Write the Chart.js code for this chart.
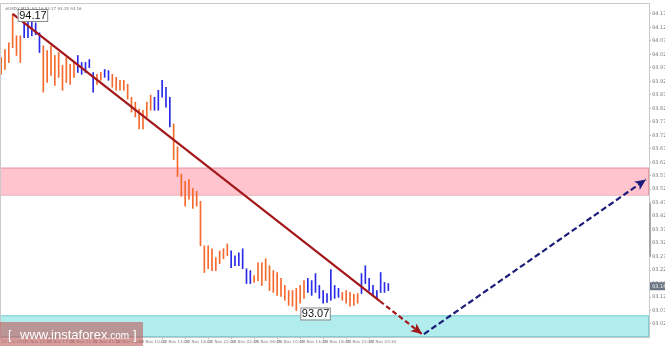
<!DOCTYPE html>
<html>
<head>
<meta charset="utf-8">
<script src="https://cdn.jsdelivr.net/npm/chart.js@4.4.1/dist/chart.umd.min.js"></script>
<style>
html, body { margin: 0; padding: 0; background: #fff; overflow: hidden; }
</style>
</head>
<body>
<canvas id="usdxChart" width="665" height="346"></canvas>
<script>
// time axis, one label every 6 bars
const timeLabels = ["21 Nov 2017", "21 Nov 13:15", "21 Nov 17:15", "21 Nov 21:15", "22 Nov 01:15", "22 Nov 06:00",
    "22 Nov 10:00", "22 Nov 14:00", "22 Nov 18:00", "22 Nov 22:00", "23 Nov 02:45", "23 Nov 06:45",
    "23 Nov 10:45", "23 Nov 14:45", "23 Nov 18:45", "23 Nov 22:45", "24 Nov 03:30"];

const priceTicks = [94.17, 94.12, 94.07, 94.02, 93.97, 93.92, 93.87, 93.82, 93.77, 93.72, 93.67, 93.62,
    93.57, 93.52, 93.47, 93.42, 93.37, 93.32, 93.27, 93.22, 93.17, 93.12, 93.07, 93.02];

const highs = [94.008, 94.038, 94.063, 94.170, 94.089, 94.089, 94.137, 94.144, 94.148, 94.137,
    94.100, 94.052, 94.034, 94.052, 94.016, 94.027, 93.979, 94.008, 93.983, 93.990,
    94.016, 93.990, 93.990, 94.001, 93.953, 93.946, 93.953, 93.964, 93.960, 93.946,
    93.935, 93.924, 93.924, 93.909, 93.861, 93.843, 93.817, 93.813, 93.843, 93.869,
    93.861, 93.887, 93.924, 93.898, 93.861, 93.762, 93.677, 93.575, 93.549, 93.556,
    93.523, 93.512, 93.475, 93.310, 93.310, 93.299, 93.266, 93.291, 93.299, 93.317,
    93.291, 93.273, 93.284, 93.299, 93.225, 93.218, 93.200, 93.247, 93.247, 93.262,
    93.236, 93.218, 93.211, 93.189, 93.163, 93.144, 93.144, 93.152, 93.163, 93.181,
    93.189, 93.181, 93.207, 93.163, 93.144, 93.133, 93.222, 93.163, 93.152, 93.137,
    93.144, 93.137, 93.130, 93.133, 93.207, 93.236, 93.189, 93.163, 93.144, 93.211,
    93.174, 93.170];

const lows = [93.946, 93.964, 93.990, 94.045, 94.016, 93.990, 94.082, 94.082, 94.089, 94.093,
    94.027, 93.880, 93.916, 93.942, 93.905, 93.935, 93.887, 93.916, 93.909, 93.935,
    93.953, 93.946, 93.953, 93.971, 93.880, 93.909, 93.924, 93.935, 93.924, 93.898,
    93.887, 93.887, 93.887, 93.854, 93.806, 93.788, 93.744, 93.744, 93.788, 93.813,
    93.813, 93.813, 93.861, 93.824, 93.751, 93.630, 93.567, 93.494, 93.457, 93.483,
    93.449, 93.457, 93.310, 93.211, 93.225, 93.218, 93.218, 93.244, 93.262, 93.273,
    93.229, 93.236, 93.236, 93.225, 93.170, 93.170, 93.174, 93.181, 93.163, 93.181,
    93.144, 93.137, 93.126, 93.122, 93.108, 93.089, 93.086, 93.070, 93.097, 93.115,
    93.137, 93.126, 93.137, 93.115, 93.097, 93.100, 93.108, 93.115, 93.119, 93.108,
    93.097, 93.086, 93.089, 93.097, 93.133, 93.170, 93.144, 93.126, 93.115, 93.137,
    93.137, 93.144];

// bar index ranges of rising waves (drawn blue)
const upWaves = [[6, 10], [20, 24], [27, 28], [40, 44], [60, 65], [80, 88], [94, 101]];

const pinkZone = [93.50, 93.60];
const cyanZone = [92.9717, 93.052];
const swingHigh = { bar: 3, price: 94.17 };
const swingLow = { bar: 77, price: 93.07 };
const lastPrice = 93.16;

const downArrow = [{ x: 3, y: 94.17 }, { x: 98.8, y: 93.1046 }, { x: 109.8, y: 92.9825 }];
const upArrow = [{ x: 110.3, y: 92.9825 }, { x: 168.2, y: 93.556 }];

const ORANGE = "#f5692d";
const BLUE = "#2a2ae8";
const RED = "#a3161a";
const NAVY = "#1c1c7a";

function isUp(i) {
    return upWaves.some(r => i >= r[0] && i <= r[1]);
}

const zonesPlugin = {
    id: "zones",
    beforeDatasetsDraw(chart) {
        const { ctx, chartArea, scales } = chart;
        const y = scales.y;
        ctx.save();
        // pink resistance zone
        let top = y.getPixelForValue(pinkZone[1]);
        let bot = y.getPixelForValue(pinkZone[0]);
        ctx.fillStyle = "#ffc4cd";
        ctx.fillRect(chartArea.left, top, chartArea.right - chartArea.left, bot - top);
        ctx.strokeStyle = "#e79aa6";
        ctx.lineWidth = 1;
        ctx.strokeRect(chartArea.left + 0.5, top + 0.5, chartArea.right - chartArea.left - 1, bot - top);
        // cyan support zone
        top = y.getPixelForValue(cyanZone[1]);
        bot = Math.min(y.getPixelForValue(cyanZone[0]), chartArea.bottom);
        ctx.fillStyle = "#b1eded";
        ctx.fillRect(chartArea.left, top, chartArea.right - chartArea.left, bot - top);
        ctx.strokeStyle = "#7fcfd2";
        ctx.strokeRect(chartArea.left + 0.5, top + 0.5, chartArea.right - chartArea.left - 1, bot - top - 1);
        ctx.restore();
    },
    afterDraw(chart) {
        const { ctx, chartArea, scales } = chart;
        const x = scales.x, y = scales.y;
        ctx.save();

        // frame
        ctx.strokeStyle = "#c9c9c9";
        ctx.lineWidth = 1;
        ctx.strokeRect(chartArea.left + 0.5, chartArea.top - 0.5, chartArea.right - chartArea.left, chartArea.bottom - chartArea.top + 1);

        // arrow heads
        drawHead(ctx, chart, 1, RED);
        drawHead(ctx, chart, 2, NAVY);

        // swing labels
        ctx.font = "11px 'Liberation Sans', Arial, sans-serif";
        ctx.textBaseline = "middle";
        [[swingHigh, 5, -5], [swingLow, 4, -3]].forEach(([pt, dx, dy]) => {
            const px = x.getPixelForValue(pt.bar);
            const py = y.getPixelForValue(pt.price);
            const txt = pt.price.toFixed(2);
            const w = ctx.measureText(txt).width + 2;
            ctx.fillStyle = "#fff";
            ctx.fillRect(px + dx, py + dy, w, 12);
            ctx.strokeStyle = "#8a8a8a";
            ctx.strokeRect(px + dx + 0.5, py + dy + 0.5, w, 12);
            ctx.fillStyle = "#111";
            ctx.fillText(txt, px + dx + 1.5, py + dy + 6.5);
        });

        // last price marker on the axis
        const lp = y.getPixelForValue(lastPrice);
        ctx.fillStyle = "#6c7684";
        ctx.fillRect(chartArea.right + 1, lp - 4, 15, 8);
        ctx.fillStyle = "#f2f2f2";
        ctx.font = "5px 'DejaVu Sans', sans-serif";
        ctx.fillText(lastPrice.toFixed(2), chartArea.right + 3, lp);

        // scroll bar on the price axis
        ctx.fillStyle = "#a6a6a6";
        ctx.fillRect(chartArea.right, y.getPixelForValue(93.467), 2, y.getPixelForValue(93.27) - y.getPixelForValue(93.467));

        // symbol line
        ctx.fillStyle = "#777";
        ctx.font = "4px 'DejaVu Sans', sans-serif";
        ctx.fillText("#USDX,M15  93.16 93.17 93.15 93.16", chartArea.left + 5, chartArea.top + 5);

        // watermark
        ctx.fillStyle = "rgba(190, 96, 96, 0.62)";
        ctx.fillRect(0, 322, 143, 24);
        ctx.fillStyle = "#fff";
        ctx.font = "13px 'Liberation Sans', Arial, sans-serif";
        ctx.textBaseline = "alphabetic";
        ctx.fillText("[", 8, 339);
        ctx.fillText("www.instaforex", 20, 339);
        const w1 = ctx.measureText("www.instaforex").width;
        ctx.font = "10px 'Liberation Sans', Arial, sans-serif";
        ctx.fillText(".com", 20 + w1, 339);
        const w2 = ctx.measureText(".com").width;
        ctx.font = "13px 'Liberation Sans', Arial, sans-serif";
        ctx.fillText("]", 20 + w1 + w2 + 4, 339);
        ctx.restore();
    }
};

function drawHead(ctx, chart, dsIndex, color) {
    const pts = chart.getDatasetMeta(dsIndex).data;
    const a = pts[pts.length - 2], b = pts[pts.length - 1];
    const ang = Math.atan2(b.y - a.y, b.x - a.x);
    const len = 11, half = 5;
    ctx.save();
    ctx.translate(b.x, b.y);
    ctx.rotate(ang);
    ctx.beginPath();
    ctx.moveTo(0, 0);
    ctx.lineTo(-len, -half);
    ctx.lineTo(-len * 0.75, 0);
    ctx.lineTo(-len, half);
    ctx.closePath();
    ctx.fillStyle = color;
    ctx.fill();
    ctx.restore();
}

new Chart("usdxChart", {
    type: "bar",
    data: {
        datasets: [{
            type: "bar",
            data: highs.map((h, i) => ({ x: i, y: [lows[i], h] })),
            backgroundColor: highs.map((h, i) => isUp(i) ? BLUE : ORANGE),
            barThickness: 1,
            grouped: false,
            order: 3
        }, {
            type: "line",
            data: downArrow,
            borderColor: RED,
            borderWidth: 2.2,
            pointRadius: 0,
            segment: { borderDash: ctx => ctx.p0DataIndex === 1 ? [5, 3] : undefined },
            order: 1
        }, {
            type: "line",
            data: upArrow,
            borderColor: NAVY,
            borderWidth: 2.2,
            borderDash: [6, 3],
            pointRadius: 0,
            order: 1
        }]
    },
    options: {
        responsive: false,
        animation: false,
        devicePixelRatio: 1,
        layout: { padding: { top: 1, left: 0, right: 0, bottom: 0 } },
        plugins: { legend: { display: false }, tooltip: { enabled: false } },
        scales: {
            x: {
                type: "linear",
                offset: false,
                min: -0.3,
                max: 169,
                afterBuildTicks: axis => { axis.ticks = timeLabels.map((t, k) => ({ value: k * 6 })); },
                afterFit: axis => { axis.height = 9; },
                ticks: {
                    callback: (v, idx) => timeLabels[idx],
                    autoSkip: false,
                    maxRotation: 0,
                    align: "start",
                    padding: 1,
                    color: "#7a7a7a",
                    font: { size: 4, family: "'DejaVu Sans', sans-serif" }
                },
                grid: { drawOnChartArea: false, tickLength: 2, color: "#b8b8b8", offset: false },
                border: { color: "#c9c9c9" }
            },
            y: {
                position: "right",
                min: 92.9717,
                max: 94.207,
                afterBuildTicks: axis => { axis.ticks = priceTicks.map(v => ({ value: v })); },
                afterFit: axis => { axis.width = 16; },
                ticks: {
                    callback: v => v.toFixed(2),
                    padding: 1,
                    color: "#7a7a7a",
                    font: { size: 5, family: "'DejaVu Sans', sans-serif" }
                },
                grid: { drawOnChartArea: false, tickLength: 2, color: "#b8b8b8" },
                border: { color: "#c9c9c9" }
            }
        }
    },
    plugins: [zonesPlugin]
});
</script>
</body>
</html>
